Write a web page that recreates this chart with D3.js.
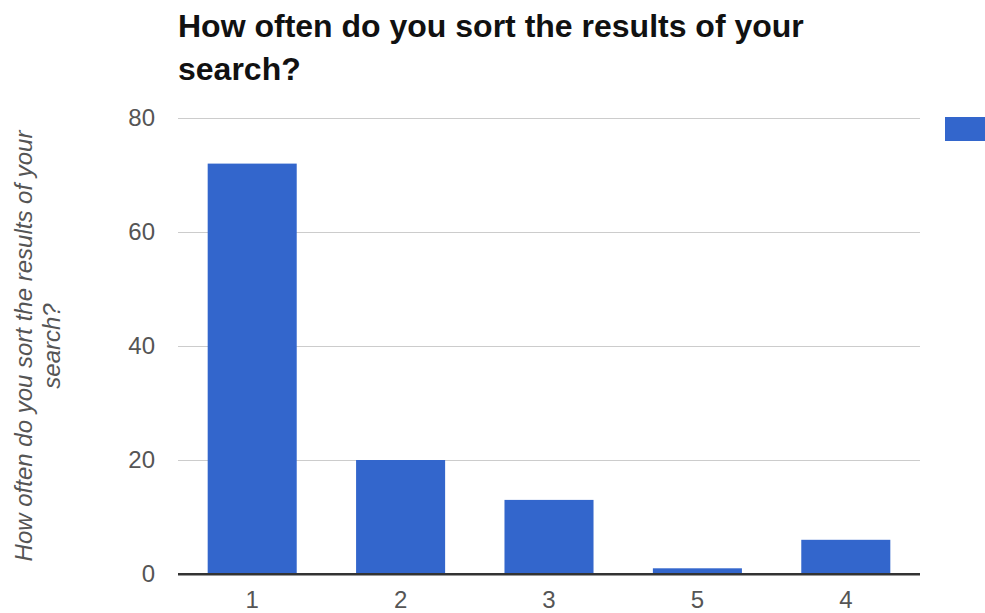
<!DOCTYPE html>
<html>
<head>
<meta charset="utf-8">
<script src="https://cdn.jsdelivr.net/npm/d3@7/dist/d3.min.js"></script>
<style>
  body { margin: 0; background: #fff; }
  svg { display: block; font-family: "Liberation Sans", Arial, sans-serif; }
</style>
</head>
<body>
<svg id="chart" width="985" height="613"></svg>
<script>
const categories = ["1", "2", "3", "5", "4"];
const counts = [72, 20, 13, 1, 6];
const yTicks = [0, 20, 40, 60, 80];

const titleLines = ["How often do you sort the results of your", "search?"];
const axisTitleLines = ["How often do you sort the results of your", "search?"];

const width = 985;
const height = 613;
const margin = { top: 118, right: 65, bottom: 39, left: 178 };

const svg = d3.select("#chart");

const x = d3.scaleBand()
    .domain(categories)
    .range([margin.left, width - margin.right])
    .paddingInner(0.4)
    .paddingOuter(0.2);

const y = d3.scaleLinear()
    .domain([0, 80])
    .range([height - margin.bottom, margin.top]);

// gridlines + y labels
const yAxis = svg.append("g")
    .attr("transform", `translate(${ margin.left }, 0)`)
    .call(d3.axisLeft(y).tickValues(yTicks).tickSize(-(width - margin.right - margin.left)).tickPadding(23));

yAxis.select(".domain").remove();
yAxis.selectAll(".tick line")
    .attr("stroke", d => d === 0 ? "#333" : "#ccc")
    .attr("stroke-width", d => d === 0 ? 2 : 1);
yAxis.selectAll(".tick text")
    .attr("fill", "#555")
    .attr("font-size", 24)
    .attr("font-family", "Liberation Sans, Arial, sans-serif");

// bars
svg.append("g")
    .selectAll("rect")
    .data(categories)
    .join("rect")
    .attr("x", d => x(d))
    .attr("width", x.bandwidth())
    .attr("y", (d, i) => y(counts[i]))
    .attr("height", (d, i) => y(0) - y(counts[i]))
    .attr("fill", "#3366cc");

// baseline on top of bars
svg.append("line")
    .attr("x1", margin.left)
    .attr("x2", width - margin.right)
    .attr("y1", y(0))
    .attr("y2", y(0))
    .attr("stroke", "#333")
    .attr("stroke-width", 2);

// x labels
const xAxis = svg.append("g")
    .attr("transform", `translate(0, ${ y(0) })`)
    .call(d3.axisBottom(x).tickSize(0).tickPadding(17));

xAxis.select(".domain").remove();
xAxis.selectAll(".tick text")
    .attr("fill", "#555")
    .attr("font-size", 24)
    .attr("font-family", "Liberation Sans, Arial, sans-serif");

// title
svg.append("text")
    .attr("x", margin.left)
    .attr("y", 37)
    .attr("font-size", 32)
    .attr("font-weight", "bold")
    .attr("fill", "#111")
    .selectAll("tspan")
    .data(titleLines)
    .join("tspan")
    .attr("x", margin.left)
    .attr("dy", (d, i) => i === 0 ? 0 : 43)
    .text(d => d);

// y axis title
const midY = (y(0) + y(80)) / 2;
svg.append("text")
    .attr("transform", `translate(32, ${ midY }) rotate(-90)`)
    .attr("text-anchor", "middle")
    .attr("font-size", 24)
    .attr("font-style", "italic")
    .attr("fill", "#555")
    .selectAll("tspan")
    .data(axisTitleLines)
    .join("tspan")
    .attr("x", 0)
    .attr("dy", (d, i) => i === 0 ? 0 : 28)
    .text(d => d);

// legend swatch (label is cut off at the right edge)
svg.append("rect")
    .attr("x", 945)
    .attr("y", 117)
    .attr("width", 50)
    .attr("height", 24)
    .attr("fill", "#3366cc");
</script>
</body>
</html>
